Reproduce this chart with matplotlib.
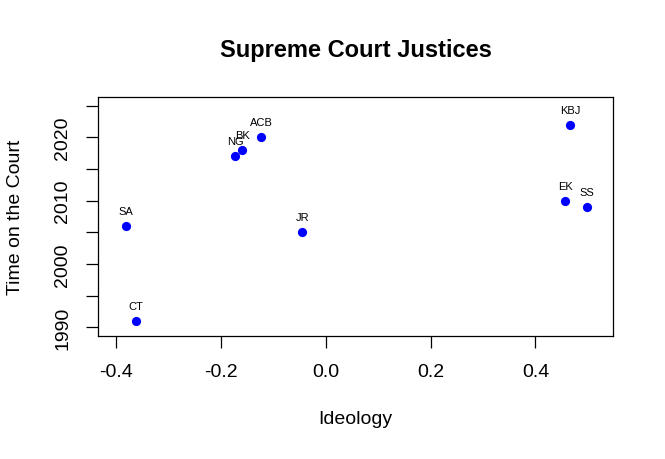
import matplotlib
matplotlib.use("Agg")
import matplotlib.pyplot as plt

plt.rcParams['font.family'] = ['Liberation Sans', 'DejaVu Sans']

justices = ["CT", "SA", "NG", "BK", "ACB", "JR", "KBJ", "EK", "SS"]
ideology = [-0.363, -0.381, -0.173, -0.160, -0.123, -0.045, 0.466, 0.457, 0.498]
year_joined = [1991, 2006, 2017, 2018, 2020, 2005, 2022, 2010, 2009]
y_ticks = [1990, 1995, 2000, 2005, 2010, 2015, 2020, 2025]
y_tick_labels = ["1990", "", "2000", "", "2010", "", "2020", ""]
x_ticks = [-0.4, -0.2, 0.0, 0.2, 0.4]
x_tick_labels = ["-0.4", "-0.2", "0.0", "0.2", "0.4"]

W, H = 665, 460
fig = plt.figure(figsize=(W/100, H/100), dpi=100)
left, right, top, bottom = 98.3, 613, 98.3, 337.3
ax = fig.add_axes([left/W, 1-bottom/H, (right-left)/W, (bottom-top)/H])

ax.scatter(ideology, year_joined, s=44, color=(0, 0, 1), zorder=3, linewidths=0)
for name, x, y in zip(justices, ideology, year_joined):
    ax.annotate(name, (x, y), xytext=(0, 10.8), textcoords='offset points',
                ha='center', va='center', fontsize=8)

ax.set_xlim(-0.4345, 0.548)
ax.set_ylim(1988.6, 2026.3)
ax.set_xticks(x_ticks)
ax.set_xticklabels(x_tick_labels)
ax.set_yticks(y_ticks)
ax.set_yticklabels(y_tick_labels, rotation=90, va='center')
ax.tick_params(direction='out', length=8.4, width=0.9, labelsize=14, pad=11)
for s in ax.spines.values():
    s.set_linewidth(0.9)

fig.text((left+right)/2/W, 1-50/H, "Supreme Court Justices", ha='center', va='center',
         fontsize=17, fontweight='bold')
fig.text((left+right)/2/W, 1-420/H, "Ideology", ha='center', va='center', fontsize=14)
fig.text(16/W, 1-(top+bottom)/2/H, "Time on the Court", ha='center', va='center',
         fontsize=14, rotation=90)

fig.savefig("out.png", dpi=100)
